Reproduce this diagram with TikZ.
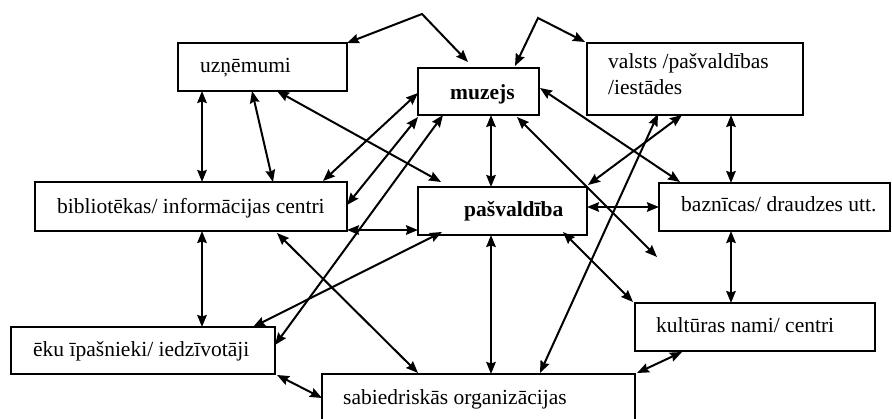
\documentclass[tikz,border=0pt]{standalone}
\usepackage{fontspec}
\setmainfont{Liberation Serif}
\usetikzlibrary{arrows.meta}
\begin{document}
\begin{tikzpicture}[x=1pt,y=-1pt,
  box/.style={draw, line width=2.1pt, anchor=north west, inner sep=0pt, outer sep=0pt},
  lbl/.style={anchor=base west, inner sep=0pt, font=\fontsize{21.5}{25}\selectfont},
  con/.style={line width=2pt, {Stealth[length=12pt,width=9.5pt,inset=1.5pt]}-{Stealth[length=12pt,width=9.5pt,inset=1.5pt]}}]
\useasboundingbox (0,0) rectangle (892,419);
\clip (0,0) rectangle (892,419);
% boxes
\node[box, minimum width=169pt, minimum height=48pt] (uz)  at (178,43) {};
\node[box, minimum width=121pt, minimum height=47pt] (muz) at (418,68) {};
\node[box, minimum width=216pt, minimum height=72pt] (val) at (587,43) {};
\node[box, minimum width=312pt, minimum height=49pt] (bib) at (35,182) {};
\node[box, minimum width=169pt, minimum height=48pt] (pas) at (418,187) {};
\node[box, minimum width=231pt, minimum height=48pt] (baz) at (659,183) {};
\node[box, minimum width=240pt, minimum height=48pt] (kul) at (635,303) {};
\node[box, minimum width=264pt, minimum height=47pt] (eku) at (11,327) {};
\node[box, minimum width=313pt, minimum height=70pt] (sab) at (322,374) {};
% labels
\node[lbl] (uzt)  at (200,73)  {uzņēmumi};
\node[lbl, font=\fontsize{21.5}{25}\selectfont\bfseries] (muzt) at (450,100) {muzejs};
\node[lbl] (valt1) at (608,69) {valsts /pašvaldības};
\node[lbl] (valt2) at (608,95) {/iestādes};
\node[lbl] (bibt) at (57,214)  {bibliotēkas/ informācijas centri};
\node[lbl, font=\fontsize{21.5}{25}\selectfont\bfseries] (past) at (464,217) {pašvaldība};
\node[lbl] (bazt) at (681,212) {baznīcas/ draudzes utt.};
\node[lbl] (kult) at (656,333) {kultūras nami/ centri};
\node[lbl] (ekut) at (33,357)  {ēku īpašnieki/ iedzīvotāji};
\node[lbl] (sabt) at (343,405) {sabiedriskās organizācijas};
% free coordinates
\coordinate (p1) at (422,14);
\coordinate (p2) at (538,18);
\coordinate (f1) at (657,257);
% connectors
\draw[con] (uz.north east) -- (p1) -- ([shift={(50,-6)}]muz.north west);
\draw[con] ([shift={(97,-2)}]muz.north west) -- (p2) -- ([shift={(-2,-1)}]val.north west);
\draw[con] ([shift={(24,48)}]uz.north west) -- ([shift={(167,0)}]bib.north west);
\draw[con] ([shift={(74,48)}]uz.north west) -- ([shift={(238,0)}]bib.north west);
\draw[con] ([shift={(99,48)}]uz.north west) -- ([shift={(23,-5)}]pas.north west);
\draw[con] ([shift={(0,25)}]muz.north west) -- ([shift={(288,-1)}]bib.north west);
\draw[con] ([shift={(0,49)}]muz.north west) -- ([shift={(312,23)}]bib.north west);
\draw[con] ([shift={(25,47)}]muz.north west) -- ([shift={(264,18)}]eku.north west);
\draw[con] ([shift={(73,47)}]muz.north west) -- ([shift={(73,0)}]pas.north west);
\draw[con] ([shift={(99,49)}]muz.north west) -- (f1);
\draw[con] ([shift={(122,20)}]muz.north west) -- ([shift={(21,-1)}]baz.north west);
\draw[con] ([shift={(95,72)}]val.north west) -- ([shift={(170,-2)}]pas.north west);
\draw[con] ([shift={(71,71)}]val.north west) -- ([shift={(218,-1)}]sab.north west);
\draw[con] ([shift={(144,72)}]val.north west) -- ([shift={(72,0)}]baz.north west);
\draw[con] ([shift={(312,48)}]bib.north west) -- ([shift={(0,43)}]pas.north west);
\draw[con] ([shift={(242,51)}]bib.north west) -- ([shift={(96,-1)}]sab.north west);
\draw[con] ([shift={(167,49)}]bib.north west) -- ([shift={(191,0)}]eku.north west);
\draw[con] ([shift={(24,45)}]pas.north west) -- ([shift={(242,0)}]eku.north west);
\draw[con] ([shift={(266,48)}]eku.north west) -- ([shift={(0,24)}]sab.north west);
\draw[con] ([shift={(73,48)}]pas.north west) -- ([shift={(169,0)}]sab.north west);
\draw[con] ([shift={(145,45)}]pas.north west) -- ([shift={(-2,-1)}]kul.north west);
\draw[con] ([shift={(169,20)}]pas.north west) -- ([shift={(0,24)}]baz.north west);
\draw[con] ([shift={(72,48)}]baz.north west) -- ([shift={(96,0)}]kul.north west);
\draw[con] ([shift={(47,49)}]kul.north west) -- ([shift={(315,-1)}]sab.north west);
\end{tikzpicture}
\end{document}
